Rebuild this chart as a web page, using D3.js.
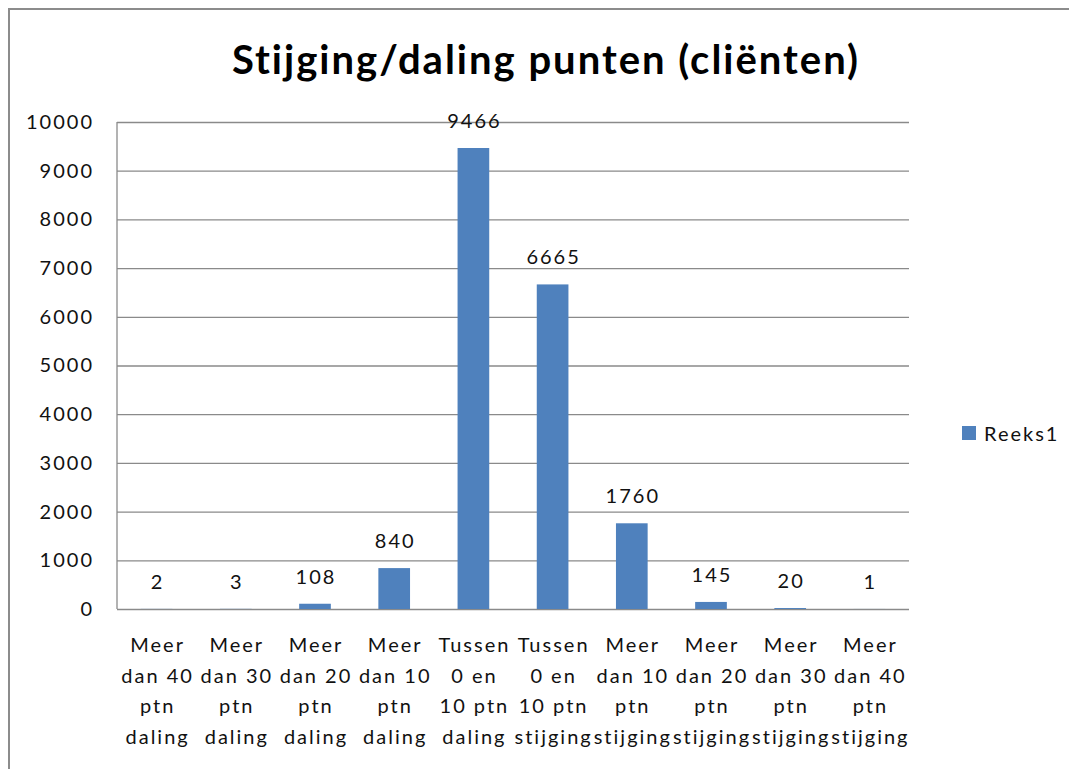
<!DOCTYPE html>
<html>
<head>
<meta charset="utf-8">
<script src="https://cdn.jsdelivr.net/npm/d3@7"></script>
<style>
  html, body { margin: 0; padding: 0; background: white; overflow: hidden; }
  svg { display: block; }
  text { font-family: Lato, "Open Sans", sans-serif; }
</style>
</head>
<body>
<svg id="mainSvg" width="1069" height="769"></svg>
<script>
// data
var categories = [
  ["Meer", "dan 40", "ptn", "daling"],
  ["Meer", "dan 30", "ptn", "daling"],
  ["Meer", "dan 20", "ptn", "daling"],
  ["Meer", "dan 10", "ptn", "daling"],
  ["Tussen", "0 en", "10 ptn", "daling"],
  ["Tussen", "0 en", "10 ptn", "stijging"],
  ["Meer", "dan 10", "ptn", "stijging"],
  ["Meer", "dan 20", "ptn", "stijging"],
  ["Meer", "dan 30", "ptn", "stijging"],
  ["Meer", "dan 40", "ptn", "stijging"]
];
var values = [2, 3, 108, 840, 9466, 6665, 1760, 145, 20, 1];
var yTicks = [0, 1000, 2000, 3000, 4000, 5000, 6000, 7000, 8000, 9000, 10000];
var seriesName = "Reeks1";
var chartTitle = "Stijging/daling punten (cliënten)";

var barColor = "#4f81bd";     // bar colour
var gridColor = "#8a8a8a";    // grid line colour
var textColor = "#111111";
var labelFont = "20px";       // tick, data and legend text
var labelSpacing = "2px";

const svg = d3.select("#mainSvg");
const margin = {top: 122, left: 117, right: 160, bottom: 160};
const width = +svg.attr("width");
const height = +svg.attr("height");
const innerWidth = width - margin.left - margin.right;
const innerHeight = height - margin.top - margin.bottom;

// chart frame: only its left and top edges are inside the picture
svg.append("path")
    .attr("d", `M9,${height}V9H${width}`)
    .attr("fill", "none")
    .attr("stroke", "#8c8c8c")
    .attr("stroke-width", 2);

svg.append("text")
    .attr("class", "title")
    .text(chartTitle)
    .attr("x", 546).attr("y", 74)
    .attr("text-anchor", "middle")
    .attr("font-size", "40px")
    .attr("font-weight", "bold")
    .attr("letter-spacing", "2px")
    .attr("fill", "#000");

const g = svg.append("g")
    .attr("transform", `translate(${margin.left}, ${margin.top})`);

const xScale = d3.scaleBand()
    .domain(d3.range(values.length))
    .range([0, innerWidth])
    .paddingInner(0.6)
    .paddingOuter(0.3);
const yScale = d3.scaleLinear().domain([0, 10000]).range([innerHeight, 0]);

// y axis with grid lines
const yAxis = d3.axisLeft(yScale)
    .tickValues(yTicks)
    .tickFormat(d3.format("d"))
    .tickSize(-innerWidth)
    .tickPadding(23);
const yAxisGroup = g.append("g").call(yAxis);
yAxisGroup.select(".domain").attr("stroke", gridColor).attr("stroke-width", 1.3).attr("d", `M0,0V${innerHeight}`);
yAxisGroup.selectAll(".tick line").attr("stroke", gridColor).attr("stroke-width", 1.3);
yAxisGroup.selectAll(".tick text")
    .attr("font-size", labelFont)
    .attr("letter-spacing", labelSpacing)
    .attr("fill", textColor)
    .attr("font-family", "Lato, sans-serif");

// bars
g.selectAll("rect.bar").data(values).join("rect")
    .attr("class", "bar")
    .attr("x", (d, i) => xScale(i))
    .attr("y", d => yScale(d))
    .attr("width", xScale.bandwidth())
    .attr("height", d => innerHeight - yScale(d))
    .attr("fill", barColor);

// data labels
g.selectAll("text.val").data(values).join("text")
    .attr("class", "val")
    .text(d => d)
    .attr("x", (d, i) => xScale(i) + xScale.bandwidth() / 2 + 1)
    .attr("y", d => yScale(d) - 20)
    .attr("text-anchor", "middle")
    .attr("font-size", labelFont)
    .attr("letter-spacing", labelSpacing)
    .attr("fill", textColor);

// category labels (4 lines each)
const catGroup = g.selectAll("g.cat").data(categories).join("g")
    .attr("class", "cat")
    .attr("transform", (d, i) => `translate(${xScale(i) + xScale.bandwidth() / 2 + 1}, ${innerHeight})`);
catGroup.selectAll("text").data(d => d).join("text")
    .attr("class", "catlabel")
    .text(d => d)
    .attr("x", 0)
    .attr("y", (d, i) => 43 + i * 30.5)
    .attr("text-anchor", "middle")
    .attr("font-size", labelFont)
    .attr("letter-spacing", labelSpacing)
    .attr("fill", textColor);

// legend
const legend = svg.append("g").attr("transform", "translate(962, 426)");
legend.append("rect").attr("width", 14).attr("height", 14).attr("fill", barColor);
legend.append("text").text(seriesName)
    .attr("x", 22).attr("y", 15)
    .attr("font-size", labelFont)
    .attr("letter-spacing", labelSpacing)
    .attr("fill", textColor);
</script>
</body>
</html>
